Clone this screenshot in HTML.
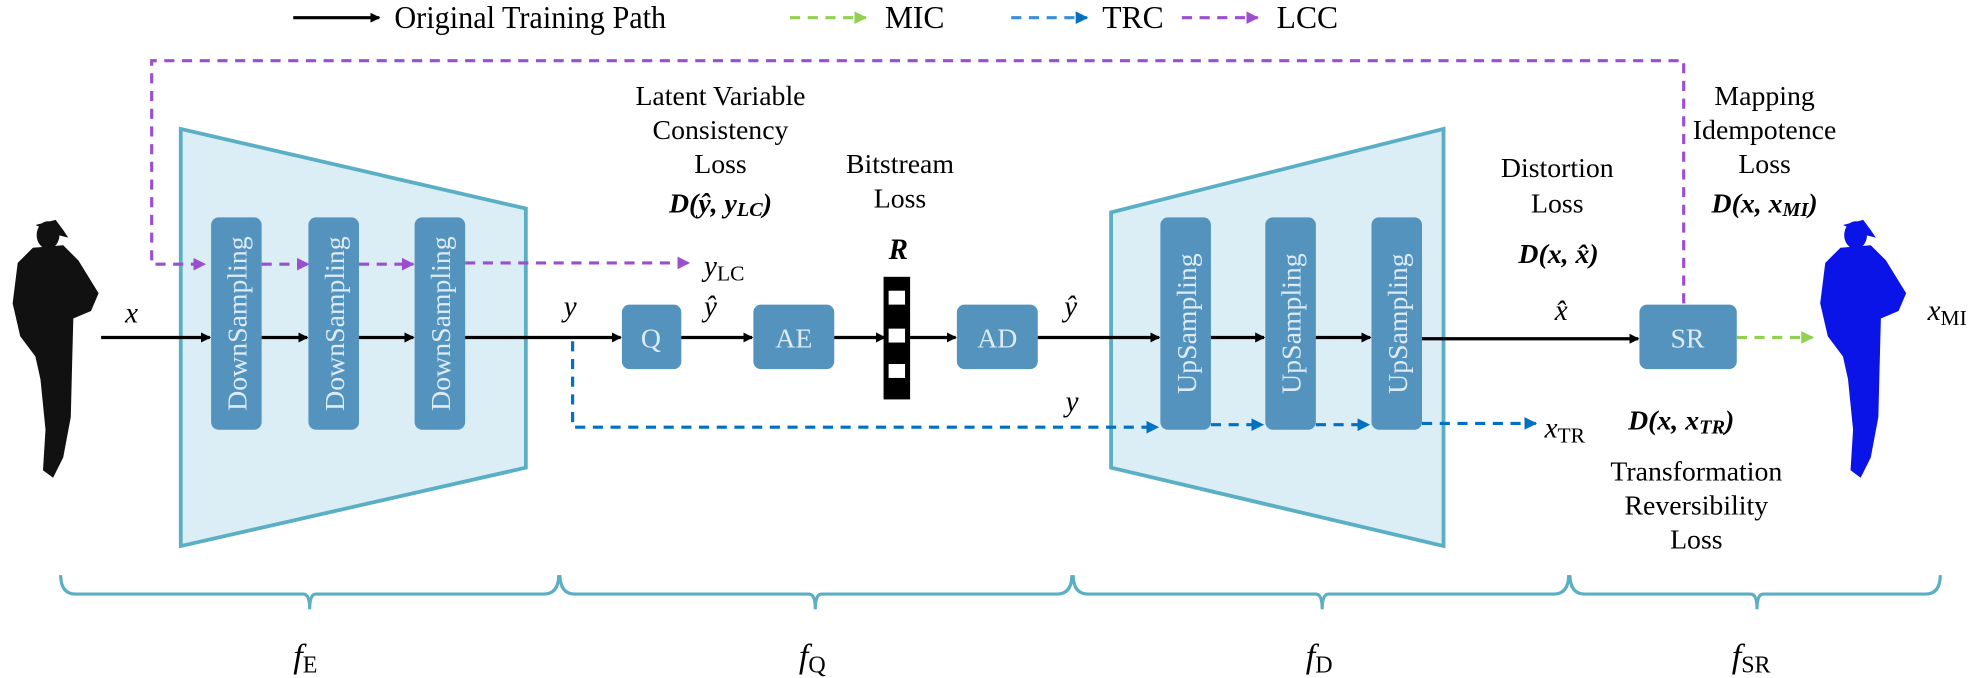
<!DOCTYPE html>
<html><head><meta charset="utf-8"><style>
html,body{margin:0;padding:0;background:#fff;}
svg{display:block;}
text{font-family:"Liberation Serif",serif;}
</style></head><body>
<svg width="1982" height="678" viewBox="0 0 1568 536.4" preserveAspectRatio="none" xmlns="http://www.w3.org/2000/svg">
<defs>
<marker id="ak" markerWidth="8" markerHeight="8" refX="7" refY="4" orient="auto" markerUnits="userSpaceOnUse"><path d="M0,0 L8,4 L0,8z" fill="#000"/></marker>
<marker id="ag" markerWidth="10" markerHeight="10" refX="9" refY="5" orient="auto" markerUnits="userSpaceOnUse"><path d="M0,0 L10,5 L0,10z" fill="#92d050"/></marker>
<marker id="ab" markerWidth="10" markerHeight="10" refX="9" refY="5" orient="auto" markerUnits="userSpaceOnUse"><path d="M0,0 L10,5 L0,10z" fill="#0070c0"/></marker>
<marker id="ap" markerWidth="10" markerHeight="10" refX="9" refY="5" orient="auto" markerUnits="userSpaceOnUse"><path d="M0,0 L10,5 L0,10z" fill="#9b4fcf"/></marker>
<g id="person"><ellipse cx="38" cy="186" rx="9" ry="11"/><path d="M28,178 L44,174 L50,182 L54,188 L46,186 Z"/><path d="M26,196 L50,194 L62,206 L78,232 L72,246 L58,252 L57,290 L56,330 L50,362 L42,378 L34,372 L36,340 L32,300 L28,282 L16,266 L10,240 L14,208 Z"/></g>
</defs>

<!-- legend -->
<line x1="232" y1="14" x2="300" y2="14" stroke="#000" stroke-width="2.5" marker-end="url(#ak)"/>
<text x="312" y="22" font-size="25" textLength="215" lengthAdjust="spacingAndGlyphs">Original Training Path</text>
<line x1="625" y1="14" x2="685" y2="14" stroke="#92d050" stroke-width="2.5" stroke-dasharray="8,6" marker-end="url(#ag)"/>
<text x="700" y="22" font-size="25">MIC</text>
<line x1="800" y1="14" x2="860" y2="14" stroke="#3a8fd6" stroke-width="2.5" stroke-dasharray="8,6" marker-end="url(#ab)"/>
<text x="872" y="22" font-size="25">TRC</text>
<line x1="935" y1="14" x2="995" y2="14" stroke="#9b4fcf" stroke-width="2.5" stroke-dasharray="8,6" marker-end="url(#ap)"/>
<text x="1010" y="22" font-size="25">LCC</text>

<!-- trapezoids -->
<polygon points="143,102 416,165 416,370 143,432" fill="#dbeef6" stroke="#5aafc4" stroke-width="3"/>
<polygon points="879,168 1142,102 1142,432 879,370" fill="#dbeef6" stroke="#5aafc4" stroke-width="3"/>

<!-- LCC path -->
<polyline points="1332,268 1332,48 120,48 120,209 162,209" fill="none" stroke="#9b4fcf" stroke-width="2.5" stroke-dasharray="8,6" marker-end="url(#ap)"/>
<line x1="207" y1="209" x2="244" y2="209" stroke="#9b4fcf" stroke-width="2.5" stroke-dasharray="8,6" marker-end="url(#ap)"/>
<line x1="284" y1="209" x2="327" y2="209" stroke="#9b4fcf" stroke-width="2.5" stroke-dasharray="8,6" marker-end="url(#ap)"/>
<line x1="368" y1="208" x2="545" y2="208" stroke="#9b4fcf" stroke-width="2.5" stroke-dasharray="8,6" marker-end="url(#ap)"/>

<!-- blocks -->
<g fill="#5593bf">
<rect x="167" y="172" width="40" height="168" rx="6"/>
<rect x="244" y="172" width="40" height="168" rx="6"/>
<rect x="328" y="172" width="40" height="168" rx="6"/>
<rect x="918" y="172" width="40" height="168" rx="6"/>
<rect x="1001" y="172" width="40" height="168" rx="6"/>
<rect x="1085" y="172" width="40" height="168" rx="6"/>
<rect x="492" y="241" width="47" height="51" rx="6"/>
<rect x="596" y="241" width="64" height="51" rx="6"/>
<rect x="757" y="241" width="64" height="51" rx="6"/>
<rect x="1297" y="241" width="77" height="51" rx="6"/>
</g>
<g fill="#dcebf5" font-size="22" text-anchor="middle">
<text transform="translate(195,256) rotate(-90)">DownSampling</text>
<text transform="translate(272,256) rotate(-90)">DownSampling</text>
<text transform="translate(356,256) rotate(-90)">DownSampling</text>
<text transform="translate(946,256) rotate(-90)">UpSampling</text>
<text transform="translate(1029,256) rotate(-90)">UpSampling</text>
<text transform="translate(1113,256) rotate(-90)">UpSampling</text>
<text x="515" y="275">Q</text><text x="628" y="275">AE</text><text x="789" y="275">AD</text><text x="1335" y="275">SR</text>
</g>

<!-- black path -->
<g stroke="#000" stroke-width="2.5" fill="none" marker-end="url(#ak)">
<line x1="80" y1="267" x2="166" y2="267"/>
<line x1="207" y1="267" x2="243" y2="267"/>
<line x1="284" y1="267" x2="327" y2="267"/>
<line x1="368" y1="267" x2="491" y2="267"/>
<line x1="539" y1="267" x2="595" y2="267"/>
<line x1="660" y1="267" x2="700" y2="267"/>
<line x1="720" y1="267" x2="756" y2="267"/>
<line x1="821" y1="267" x2="917" y2="267"/>
<line x1="958" y1="267" x2="1000" y2="267"/>
<line x1="1041" y1="267" x2="1084" y2="267"/>
<line x1="1125" y1="268" x2="1296" y2="268"/>
</g>
<!-- bitstream -->
<rect x="699" y="219" width="21" height="97" fill="#000"/>
<rect x="703" y="230" width="13" height="11" fill="#fff"/>
<rect x="703" y="260" width="13" height="11" fill="#fff"/>
<rect x="703" y="288" width="13" height="11" fill="#fff"/>

<!-- TRC -->
<polyline points="453,270 453,338 916,338" fill="none" stroke="#0070c0" stroke-width="2.5" stroke-dasharray="8,6" marker-end="url(#ab)"/>
<line x1="958" y1="336" x2="999" y2="336" stroke="#0070c0" stroke-width="2.5" stroke-dasharray="8,6" marker-end="url(#ab)"/>
<line x1="1041" y1="336" x2="1083" y2="336" stroke="#0070c0" stroke-width="2.5" stroke-dasharray="8,6" marker-end="url(#ab)"/>
<line x1="1125" y1="335" x2="1215" y2="335" stroke="#0070c0" stroke-width="2.5" stroke-dasharray="8,6" marker-end="url(#ab)"/>

<!-- MIC -->
<line x1="1374" y1="267" x2="1434" y2="267" stroke="#92d050" stroke-width="2.5" stroke-dasharray="8,6" marker-end="url(#ag)"/>

<!-- silhouettes -->
<use href="#person" fill="#111"/>
<use href="#person" fill="#0a14e6" transform="translate(1430,0)"/>

<!-- labels -->
<g font-size="23">
<text x="99" y="255" font-style="italic">x</text>
<text x="446" y="250" font-style="italic">y</text>
<text x="557" y="250" font-style="italic">ŷ</text>
<text x="842" y="250" font-style="italic">ŷ</text>
<text x="843" y="325" font-style="italic">y</text>
<text x="1230" y="253" font-style="italic">x̂</text>
<text x="557" y="218" font-style="italic">y<tspan font-size="17" font-style="normal" dy="4">LC</tspan></text>
<text x="1222" y="346" font-style="italic">x<tspan font-size="17" font-style="normal" dy="4">TR</tspan></text>
<text x="1525" y="253" font-style="italic">x<tspan font-size="17" font-style="normal" dy="4">MI</tspan></text>
<text x="703" y="205" font-weight="bold" font-style="italic">R</text>
</g>
<g font-size="22" text-anchor="middle">
<text x="570" y="83">Latent Variable</text>
<text x="570" y="110">Consistency</text>
<text x="570" y="137">Loss</text>
<text x="570" y="168" font-weight="bold" font-style="italic">D(ŷ, y<tspan font-size="16" dy="3">LC</tspan><tspan dy="-3">)</tspan></text>
<text x="712" y="137">Bitstream</text>
<text x="712" y="164">Loss</text>
<text x="1232" y="140">Distortion</text>
<text x="1232" y="168">Loss</text>
<text x="1233" y="208" font-weight="bold" font-style="italic">D(x, x̂)</text>
<text x="1396" y="83">Mapping</text>
<text x="1396" y="110">Idempotence</text>
<text x="1396" y="137">Loss</text>
<text x="1396" y="168" font-weight="bold" font-style="italic">D(x, x<tspan font-size="16" dy="3">MI</tspan><tspan dy="-3">)</tspan></text>
<text x="1330" y="340" font-weight="bold" font-style="italic">D(x, x<tspan font-size="16" dy="3">TR</tspan><tspan dy="-3">)</tspan></text>
<text x="1342" y="380">Transformation</text>
<text x="1342" y="407">Reversibility</text>
<text x="1342" y="434">Loss</text>
</g>

<!-- braces -->
<g fill="none" stroke="#5aafc4" stroke-width="2.5">
<path d="M48,455 Q48,470 60,470 L240,470 Q245,470 245,482 Q245,470 250,470 L430,470 Q442,470 442,455"/>
<path d="M443,455 Q443,470 455,470 L640,470 Q645,470 645,482 Q645,470 650,470 L836,470 Q848,470 848,455"/>
<path d="M849,455 Q849,470 861,470 L1041,470 Q1046,470 1046,482 Q1046,470 1051,470 L1229,470 Q1241,470 1241,455"/>
<path d="M1242,455 Q1242,470 1254,470 L1385,470 Q1390,470 1390,482 Q1390,470 1395,470 L1523,470 Q1535,470 1535,455"/>
</g>
<g font-size="27" font-style="italic">
<text x="232" y="528">f<tspan font-size="19" font-style="normal" dy="4">E</tspan></text>
<text x="632" y="528">f<tspan font-size="19" font-style="normal" dy="4">Q</tspan></text>
<text x="1033" y="528">f<tspan font-size="19" font-style="normal" dy="4">D</tspan></text>
<text x="1370" y="528">f<tspan font-size="19" font-style="normal" dy="4">SR</tspan></text>
</g>
</svg>
</body></html>
